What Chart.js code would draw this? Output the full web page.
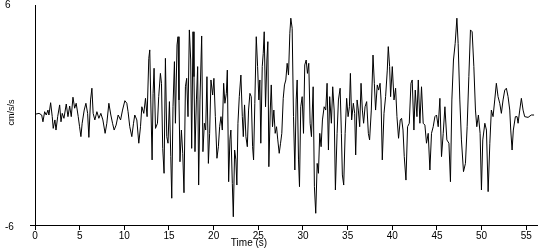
<!DOCTYPE html>
<html>
<head>
<meta charset="utf-8">
<script src="https://cdn.jsdelivr.net/npm/chart.js@4/dist/chart.umd.min.js"></script>
<style>
  html, body { margin: 0; padding: 0; background: #fff; }
  #wrap { width: 550px; height: 250px; }
  canvas { display: block; }
</style>
</head>
<body>
<div id="wrap"><canvas id="c" width="550" height="250"></canvas></div>
<script>
// ---- data ----
const times = [0.00,0.45,0.75,0.89,1.08,1.26,1.45,1.56,1.75,1.93,
2.04,2.23,2.35,2.54,2.76,2.91,3.05,3.24,3.50,3.69,
3.88,4.06,4.25,4.44,4.61,4.84,4.99,5.14,5.28,5.51,
5.70,5.89,6.03,6.22,6.37,6.51,6.70,6.93,7.15,7.37,
7.60,7.85,8.04,8.27,8.49,8.68,8.86,9.08,9.31,9.58,
9.80,10.06,10.28,10.42,10.61,10.84,11.03,11.17,11.40,11.62,
11.81,11.96,12.18,12.37,12.55,12.74,12.85,12.96,13.11,13.22,
13.33,13.49,13.71,13.85,14.04,14.16,14.30,14.45,14.60,14.75,
14.89,15.05,15.20,15.31,15.45,15.61,15.72,15.90,16.01,16.12,
16.23,16.39,16.54,16.68,16.84,16.98,17.13,17.28,17.43,17.54,
17.69,17.80,17.91,18.07,18.21,18.32,18.47,18.66,18.80,18.96,
19.11,19.25,19.41,19.55,19.70,19.89,20.03,20.19,20.37,20.53,
20.67,20.82,20.97,21.12,21.26,21.42,21.53,21.68,21.82,21.93,
22.09,22.20,22.35,22.49,22.60,22.72,22.87,23.05,23.21,23.32,
23.46,23.61,23.77,23.91,24.06,24.21,24.36,24.47,24.61,24.77,
24.92,25.06,25.17,25.28,25.44,25.55,25.66,25.81,25.96,26.07,
26.18,26.34,26.45,26.59,26.74,26.89,27.04,27.18,27.34,27.49,
27.63,27.79,27.93,28.08,28.23,28.38,28.53,28.64,28.79,28.94,
29.09,29.24,29.35,29.50,29.61,29.75,29.91,30.06,30.20,30.36,
30.50,30.65,30.80,30.95,31.14,31.28,31.43,31.59,31.73,31.88,
32.03,32.18,32.37,32.55,32.70,32.85,32.99,33.18,33.33,33.49,
33.63,33.82,33.97,34.16,34.30,34.41,34.56,34.72,34.89,35.05,
35.20,35.31,35.45,35.64,35.79,35.90,36.06,36.20,36.35,36.50,
36.65,36.79,36.95,37.13,37.32,37.46,37.65,37.84,37.99,38.13,
38.32,38.47,38.63,38.74,38.88,39.07,39.25,39.44,39.55,39.70,
39.81,40.00,40.19,40.37,40.52,40.70,40.89,41.04,41.20,41.34,
41.53,41.71,41.90,42.09,42.23,42.42,42.57,42.76,42.91,43.09,
43.27,43.46,43.65,43.83,44.02,44.21,44.39,44.58,44.77,44.95,
45.14,45.33,45.51,45.70,45.89,46.11,46.34,46.51,46.67,46.85,
47.04,47.23,47.37,47.56,47.74,47.97,48.19,48.38,48.57,48.75,
48.94,49.13,49.31,49.46,49.64,49.83,49.98,50.13,50.36,50.54,
50.73,50.92,51.09,51.28,51.47,51.65,51.84,52.03,52.21,52.40,
52.59,52.77,52.96,53.15,53.26,53.41,53.55,53.78,53.97,54.08,
54.27,54.45,54.64,54.82,55.20,55.56,55.87];

const accel = [0.04,0.09,0.00,-0.37,0.18,0.00,0.27,0.00,0.67,-0.09,
-0.73,-0.27,-0.82,-0.09,0.55,-0.37,0.09,-0.18,0.60,-0.09,
0.49,-0.09,0.97,0.37,0.64,-0.09,-0.64,-1.18,-0.45,0.27,
0.64,0.09,-1.22,0.82,1.46,0.09,-0.27,0.18,-0.18,0.09,
-0.27,-1.00,-0.45,0.64,0.00,-0.45,-0.82,-0.55,0.00,-0.27,
0.27,0.78,0.64,0.18,-0.64,-1.18,-0.45,0.00,-0.27,-1.54,
-0.64,0.45,0.09,0.91,-0.09,3.09,3.55,0.82,-2.45,1.18,
2.55,-0.73,-0.45,1.00,2.27,1.73,-1.82,-3.18,3.09,-1.18,
-1.54,0.73,-2.27,-4.54,0.45,2.91,-0.45,3.82,4.27,0.82,
-2.55,-0.82,-2.09,-4.24,1.54,2.00,-0.09,4.64,3.00,-1.82,
4.54,2.09,-2.00,0.82,2.64,-3.82,0.82,4.31,-2.00,-0.45,
-0.82,2.09,-2.64,-1.00,1.91,1.09,2.00,-0.09,-2.36,-1.73,
-0.64,-0.09,-0.82,1.73,0.64,1.18,2.45,-3.64,-1.36,-0.82,
-3.73,-5.55,-1.91,-2.45,-3.82,-0.45,1.00,2.18,-0.09,-1.18,
0.55,-1.18,-1.73,0.27,1.18,1.00,-1.73,-2.45,0.64,4.27,
2.64,0.82,1.91,-1.54,2.64,3.36,4.54,0.45,3.00,4.00,
-2.82,0.27,1.64,-0.64,0.27,-1.00,-0.64,-1.36,-2.09,-1.54,
-1.00,0.91,1.64,1.91,2.82,2.18,4.46,5.28,4.73,-0.09,
-3.00,0.82,1.91,-2.45,-3.91,0.45,1.00,-1.00,2.73,3.00,
2.27,2.82,-0.45,-1.18,1.54,-3.91,-5.36,-2.64,-3.18,-1.00,
-1.73,-0.27,0.45,0.27,1.73,-1.91,1.00,-0.45,1.54,0.27,
-4.09,-1.00,0.82,1.46,-1.00,-3.27,-3.82,-1.00,0.91,-0.09,
0.45,2.27,-0.27,0.64,0.09,-2.18,0.82,0.27,-0.64,1.73,
0.27,-0.45,0.45,0.73,-1.00,-1.36,0.27,3.27,1.73,0.27,
1.64,1.36,1.73,0.82,-2.45,0.09,1.00,2.45,3.73,2.64,
1.00,2.64,0.82,1.46,-0.09,-1.27,-0.27,-0.18,-0.82,-2.27,
-3.55,-0.64,-0.45,1.73,1.91,-0.82,1.36,-0.09,1.91,-0.45,
1.54,-0.45,-0.55,-1.54,-1.00,-3.00,-1.00,-0.64,-0.09,0.00,
-0.64,0.91,-2.27,-1.00,0.45,-1.36,-1.54,-3.64,0.82,3.00,
3.91,5.28,3.91,0.82,-1.36,-3.09,-2.64,-0.64,2.09,4.64,
4.54,2.64,0.27,-0.64,0.00,-1.00,-4.09,-1.36,-0.45,-0.82,
-4.18,-1.54,0.27,-0.09,0.82,1.73,1.00,0.64,0.09,0.82,
1.36,1.46,1.00,0.27,-0.82,-1.91,-0.82,-0.09,-0.09,-0.45,
0.27,0.91,0.27,-0.09,-0.13,0.00,0.00];

const xTickValues = [0, 5, 10, 15, 20, 25, 30, 35, 40, 45, 50, 55];
const yTickValues = [6, -6];
const yTickLabels = ['6', '-6'];
const xTitle = 'Time (s)';
const yTitle = 'cm/s/s';

const FONT = '"Liberation Sans", Arial, sans-serif';

const annot = {
  id: 'annot',
  afterDraw(chart) {
    const { ctx, scales: { x, y } } = chart;
    ctx.save();
    ctx.fillStyle = '#000';
    ctx.strokeStyle = '#000';
    ctx.lineWidth = 1;
    // small extension of the x axis line to the left of the y axis (tick at -6)
    const yb = Math.round(y.getPixelForValue(-6)) + 0.5;
    ctx.beginPath();
    ctx.moveTo(30, yb);
    ctx.lineTo(x.left, yb);
    ctx.stroke();
    // y tick labels
    ctx.font = '10px ' + FONT;
    ctx.textAlign = 'left';
    ctx.textBaseline = 'middle';
    ctx.fillText(yTickLabels[0], 5, y.getPixelForValue(yTickValues[0]) + 0.5);
    ctx.fillText(yTickLabels[1], 5, y.getPixelForValue(yTickValues[1]) + 2);
    // x title
    ctx.textAlign = 'center';
    ctx.fillText(xTitle, 249, 243);
    // y title
    ctx.translate(12, 112.5);
    ctx.rotate(-Math.PI / 2);
    ctx.font = '9px ' + FONT;
    ctx.fillText(yTitle, 0, 0);
    ctx.restore();
  }
};

new Chart(document.getElementById('c'), {
  type: 'line',
  data: {
    datasets: [{
      data: times.map((t, i) => ({ x: t, y: accel[i] })),
      borderColor: '#000',
      borderWidth: 1,
      pointRadius: 0,
      tension: 0,
      fill: false
    }]
  },
  options: {
    responsive: false,
    animation: false,
    devicePixelRatio: 1,
    layout: { padding: { left: 0, right: 13, top: 5, bottom: 0 } },
    plugins: { legend: { display: false }, tooltip: { enabled: false } },
    scales: {
      x: {
        type: 'linear',
        min: 0,
        max: 56.2,
        afterBuildTicks: (s) => { s.ticks = xTickValues.map(v => ({ value: v })); },
        afterFit: (s) => { s.height = 25; },
        ticks: {
          color: '#000',
          font: { family: FONT, size: 10 },
          padding: 0,
          maxRotation: 0,
          autoSkip: false
        },
        grid: {
          display: true,
          drawOnChartArea: false,
          drawTicks: true,
          tickLength: 5,
          color: '#000',
          lineWidth: 1
        },
        border: { display: true, color: '#000', width: 1 }
      },
      y: {
        type: 'linear',
        min: -6,
        max: 6,
        afterFit: (s) => { s.width = 35; },
        ticks: { display: false },
        grid: { display: false },
        border: { display: true, color: '#000', width: 1 }
      }
    }
  },
  plugins: [annot]
});
</script>
</body>
</html>
